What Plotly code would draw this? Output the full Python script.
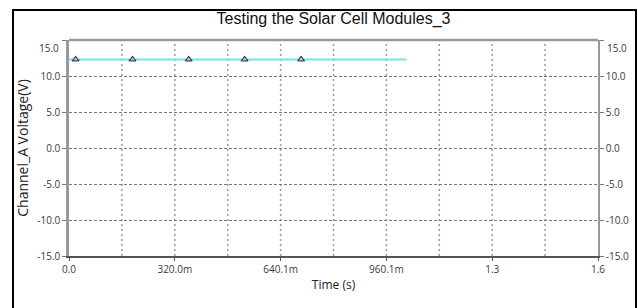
import plotly.graph_objects as go

# Data
line_x = [0.0, 1.021]
line_y = [12.3, 12.3]
marker_x = [0.02, 0.192, 0.362, 0.531, 0.702]
marker_y = [12.3, 12.3, 12.3, 12.3, 12.3]
x_tickvals = [0.0, 0.32, 0.64, 0.96, 1.28, 1.6]
x_ticktext = ["0.0", "320.0m", "640.1m", "960.1m", "1.3", "1.6"]
y_tickvals = [15, 10, 5, 0, -5, -10, -15]
y_ticktext = ["", "10.0", "5.0", "0.0", "-5.0", "-10.0", "-15.0"]
y_top_label = "15.0"
x_grid = [0.16 * i for i in range(1, 10)]

fig = go.Figure()
fig.add_trace(go.Scatter(x=line_x, y=line_y, mode="lines",
                         line=dict(color="#6fe6ee", width=2), showlegend=False))
fig.add_trace(go.Scatter(x=marker_x, y=marker_y, mode="markers",
                         marker=dict(symbol="triangle-up-open", size=6,
                                     color="#444444", line=dict(width=1.2)),
                         showlegend=False))
fig.add_trace(go.Scatter(x=[0], y=[0], yaxis="y2", mode="markers",
                         marker=dict(opacity=0), showlegend=False, hoverinfo="skip"))

FONT = "Open Sans, sans-serif"
tickfont = dict(family=FONT, size=10, color="#3a3a3a")

W, H = 638, 308
L, R, T, B = 69, 40, 40, 52
PW, PH = W - L - R, H - T - B

fig.update_layout(
    template="none",
    width=W, height=H,
    margin=dict(l=L, r=R, t=T, b=B, autoexpand=False),
    paper_bgcolor="white", plot_bgcolor="white",
    title=dict(text="Testing the Solar Cell Modules_3", x=0.5, xref="paper",
               y=1 - 18 / H, yref="container", yanchor="middle", xanchor="center",
               font=dict(family="Liberation Sans, Arial", size=16, color="#111111")),
    xaxis=dict(range=[0, 1.6], tickvals=x_tickvals, ticktext=x_ticktext,
               showgrid=False, zeroline=False, automargin=False,
               showline=True, linecolor="#555555", linewidth=1.5,
               ticks="outside", ticklen=3, tickcolor="#555555",
               tickfont=tickfont,
               title=dict(text="Time (s)", standoff=6,
                          font=dict(family=FONT, size=12, color="#222222"))),
    yaxis=dict(range=[-15, 15], tickvals=y_tickvals, ticktext=y_ticktext,
               showgrid=True, gridcolor="#777777", griddash="3px,2px", gridwidth=1,
               zeroline=False, automargin=False,
               showline=True, linecolor="#999999", linewidth=2.5,
               ticks="outside", ticklen=4, tickcolor="#777777",
               tickfont=tickfont,
               title=dict(text="Channel_A Voltage(V)", standoff=6,
                          font=dict(family=FONT, size=14, color="#222222"))),
    yaxis2=dict(range=[-15, 15], tickvals=y_tickvals, ticktext=y_ticktext,
                overlaying="y", side="right", showgrid=False, zeroline=False,
                automargin=False,
                showline=True, linecolor="#999999", linewidth=1.5,
                ticks="outside", ticklen=4, tickcolor="#777777",
                tickfont=tickfont),
    showlegend=False,
)

ytop = 1 - (48 - T) / PH
fig.add_annotation(text=y_top_label, xref="paper", yref="paper", x=-8 / PW, y=ytop,
                   xanchor="right", yanchor="middle", showarrow=False, font=tickfont)
fig.add_annotation(text=y_top_label, xref="paper", yref="paper", x=1 + 7 / PW, y=ytop,
                   xanchor="left", yanchor="middle", showarrow=False, font=tickfont)

shapes = []
for gx in x_grid:
    shapes.append(dict(type="line", xref="x", yref="paper", x0=gx, x1=gx, y0=0, y1=1,
                       line=dict(color="#999999", width=1.5, dash="2px,3px"), layer="below"))
shapes.append(dict(type="line", xref="paper", yref="paper", x0=0, x1=1, y0=1, y1=1,
                   line=dict(color="#999999", width=2.5)))
shapes.append(dict(type="rect", xref="paper", yref="paper",
                   x0=(13 - L) / PW, x1=(636 - L) / PW,
                   y0=(H - B - 312) / PH, y1=(H - B - 10) / PH,
                   line=dict(color="black", width=2), fillcolor="rgba(0,0,0,0)"))
fig.update_layout(shapes=shapes)

fig.write_html("out.html", config={"displayModeBar": False},
               post_script="document.body.style.margin='0px';document.body.style.overflow='hidden';")
